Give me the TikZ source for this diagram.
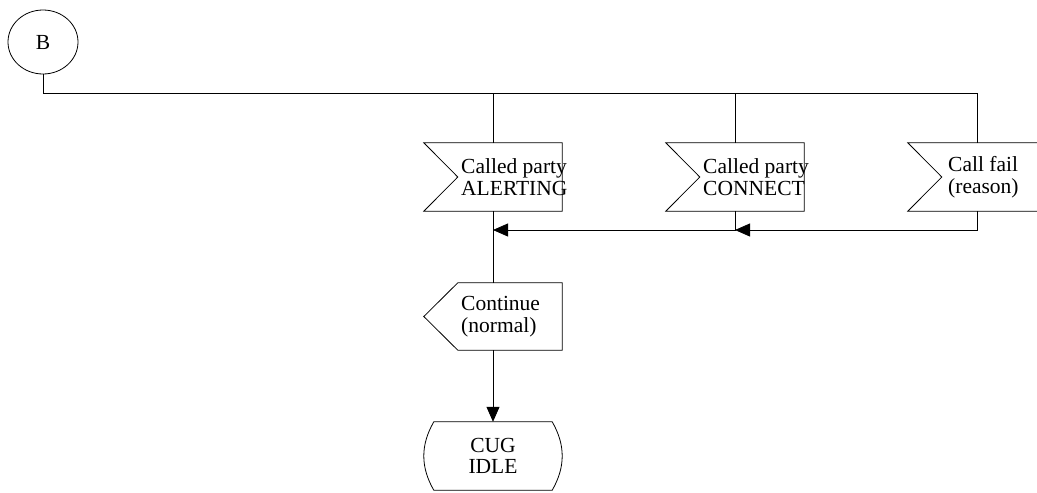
\documentclass[tikz,border=0pt]{standalone}
\usepackage{fontspec}
\setmainfont{Liberation Serif}
\usepackage{tikz}
\usetikzlibrary{positioning, shapes.geometric, arrows.meta}

\tikzset{
    sdl/.style={draw, line width=0.8pt, inner sep=0},
    sdlfont/.style={font=\fontsize{21.5pt}{21.6pt}\selectfont},
    sdlbox/.style={inner sep=0, minimum width=138pt, minimum height=68pt},
    connector/.style={sdl, sdlfont, ellipse, minimum width=70pt, minimum height=64pt},
    sdlin/.style={sdlbox,
        append after command={\pgfextra{\draw[line width=0.8pt]
            (\tikzlastnode.north west) -- (\tikzlastnode.north east)
            -- (\tikzlastnode.south east) -- (\tikzlastnode.south west)
            -- ([xshift=34pt]\tikzlastnode.west) -- cycle;}}},
    sdlout/.style={sdlbox,
        append after command={\pgfextra{\draw[line width=0.8pt]
            ([xshift=34pt]\tikzlastnode.north west) -- (\tikzlastnode.north east)
            -- (\tikzlastnode.south east) -- ([xshift=34pt]\tikzlastnode.south west)
            -- (\tikzlastnode.west) -- cycle;}}},
    sdlstate/.style={sdlbox, sdlfont, align=center,
        append after command={\pgfextra{\draw[line width=0.8pt]
            ([xshift=10pt]\tikzlastnode.north west) -- ([xshift=-10pt]\tikzlastnode.north east)
            to[bend left=30] ([xshift=-10pt]\tikzlastnode.south east)
            -- ([xshift=10pt]\tikzlastnode.south west)
            to[bend left=30] ([xshift=10pt]\tikzlastnode.north west) -- cycle;}}},
    sdltext/.style={sdlfont, align=left, inner sep=0, anchor=west},
    wire/.style={line width=0.8pt},
    flow/.style={wire, -{Triangle[length=15pt,width=13pt]}}
}

\begin{document}
\begin{tikzpicture}[x=1pt, y=-1pt]
    \useasboundingbox (0,0) rectangle (1037,493);

    \node[connector] (b) at (43,42) {B};

    \node[sdlin] (alert) at (493,177) {};
    \node[sdltext] (alertTxt) at ([xshift=-32pt]alert.center) {Called party\\ALERTING};
    \node[sdlin] (connect) at (735,177) {};
    \node[sdltext] (connectTxt) at ([xshift=-32pt]connect.center) {Called party\\CONNECT};
    \node[sdlin] (fail) at (977,177) {};
    \node[sdltext] (failTxt) at ([xshift=-29pt]fail.center) {Call fail\\(reason)};

    \node[sdlout, minimum height=67pt] (cont) at (493,316.5) {};
    \node[sdltext] (contTxt) at ([xshift=-32pt]cont.center) {Continue\\(normal)};

    \node[sdlstate] (idle) at (493,456) {CUG\\IDLE};

    % bus from connector B
    \coordinate (bus) at (b.south |- 0,93);
    \draw[wire] (b) -- (bus) -| (fail.north);
    \draw[wire] (alert.north) -- (alert.north |- bus);
    \draw[wire] (connect.north) -- (connect.north |- bus);

    \coordinate (jA) at (alert.south |- 0,230);
    \coordinate (jC) at (connect.south |- 0,230);
    \draw[flow] (fail.south) |- (jC);
    \draw[flow] (connect.south) |- (jA);
    \draw[wire] (alert.south) -- (cont.north);
    \draw[flow] (cont.south) -- (idle.north);
\end{tikzpicture}
\end{document}
